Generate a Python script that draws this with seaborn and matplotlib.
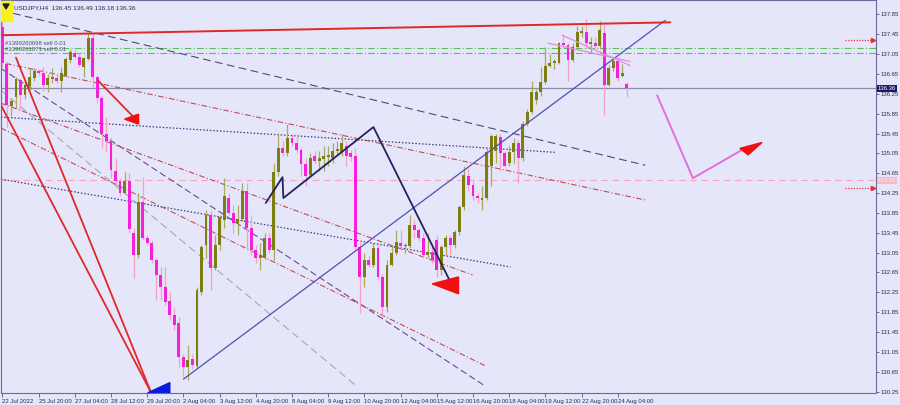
import numpy as np
import pandas as pd
import seaborn as sns
import matplotlib
matplotlib.use("Agg")
import matplotlib.pyplot as plt
from matplotlib.patches import Polygon, Rectangle
import matplotlib.transforms as mtransforms

# USDJPY H4 bars, 22 Jul 2022 12:00 .. 24 Aug 2022 12:00
opens = [137.60, 136.86, 136.00, 136.18, 136.52, 136.22, 136.40, 136.56, 136.71, 136.66,
         136.42, 136.55, 136.57, 136.50, 136.60, 136.93, 137.08, 137.00, 136.80, 136.95,
         137.37, 136.58, 136.16, 135.45, 135.30, 134.70, 134.50, 134.25, 134.50, 133.45,
         133.00, 134.07, 133.34, 133.24, 132.90, 132.60, 132.36, 132.07, 131.80, 131.63,
         130.95, 130.75, 130.90, 130.77, 132.26, 133.20, 133.80, 132.74, 133.20, 133.70,
         134.15, 133.85, 133.65, 133.72, 134.30, 133.55, 133.10, 132.95, 132.95, 133.35,
         133.10, 134.67, 135.15, 135.05, 135.35, 135.25, 135.12, 134.83, 134.62, 135.00,
         134.90, 134.93, 134.98, 134.95, 135.10, 135.07, 135.20, 135.05, 135.00, 133.16,
         132.55, 132.90, 132.80, 133.15, 132.55, 131.95, 132.80, 133.05, 133.25, 133.18,
         133.19, 133.60, 133.50, 133.35, 133.00, 133.07, 133.30, 132.70, 133.16, 133.34,
         133.20, 133.46, 133.96, 134.60, 134.42, 134.20, 134.12, 134.15, 134.80, 135.10,
         135.37, 135.05, 134.85, 135.07, 135.25, 134.95, 135.65, 135.88, 136.12, 136.28,
         136.48, 136.82, 136.87, 136.87, 137.27, 137.23, 136.93, 137.20, 137.48, 137.50,
         137.26, 137.28, 137.22, 137.48, 136.42, 136.77, 136.92, 136.60, 136.45]
highs = [137.72, 136.92, 136.15, 136.58, 136.56, 136.52, 136.77, 136.77, 136.74, 136.78,
         136.64, 136.77, 136.64, 136.80, 137.00, 137.15, 137.15, 137.05, 137.00, 137.48,
         137.45, 136.62, 136.20, 135.78, 135.37, 134.95, 134.55, 134.67, 134.65, 133.55,
         134.25, 134.57, 133.40, 133.30, 132.95, 132.75, 132.75, 132.25, 131.95, 131.75,
         131.00, 131.19, 131.00, 132.35, 133.20, 133.90, 133.90, 133.40, 133.80, 134.55,
         134.25, 134.00, 134.00, 134.45, 134.45, 133.80, 133.20, 133.25, 133.45, 133.45,
         134.85, 135.47, 135.30, 135.65, 135.45, 135.42, 135.18, 134.95, 135.05, 135.10,
         135.10, 135.20, 135.20, 135.25, 135.30, 135.45, 135.30, 135.12, 135.15, 133.30,
         133.05, 133.00, 133.25, 133.20, 132.62, 132.90, 133.20, 133.50, 133.50, 133.25,
         133.80, 133.70, 133.55, 133.45, 133.45, 133.20, 133.40, 133.20, 133.40, 133.40,
         133.50, 134.00, 134.80, 134.75, 134.50, 134.25, 134.40, 135.15, 135.45, 135.45,
         135.45, 135.10, 135.20, 135.35, 135.32, 135.70, 135.95, 136.50, 136.35, 136.80,
         137.20, 137.05, 136.95, 137.30, 137.45, 137.27, 137.27, 137.62, 137.62, 137.75,
         137.40, 137.40, 137.72, 137.63, 136.83, 137.00, 137.00, 136.86, 136.49]
lows = [136.80, 135.58, 135.80, 135.96, 135.92, 136.15, 136.32, 136.50, 136.62, 136.30,
        136.28, 136.47, 136.47, 136.28, 136.58, 136.88, 136.95, 136.80, 136.58, 136.93,
        136.36, 136.06, 135.15, 135.10, 134.56, 134.40, 134.20, 134.23, 133.45, 132.53,
        132.95, 133.30, 133.20, 132.85, 132.10, 132.10, 132.00, 131.70, 131.50, 130.75,
        130.55, 130.48, 130.70, 130.72, 132.20, 132.95, 132.30, 132.70, 133.10, 133.55,
        133.80, 133.45, 133.40, 133.68, 133.15, 133.00, 132.85, 132.70, 132.93, 133.05,
        132.90, 134.60, 135.00, 135.00, 135.20, 135.05, 134.60, 134.40, 134.58, 134.85,
        134.70, 134.70, 134.80, 134.85, 135.00, 135.00, 134.80, 134.90, 133.10, 131.83,
        132.35, 132.75, 132.75, 132.50, 131.75, 131.85, 132.78, 133.00, 133.12, 133.05,
        133.15, 133.35, 133.28, 132.95, 132.95, 132.85, 132.55, 132.60, 133.00, 133.00,
        133.15, 133.40, 133.90, 134.30, 134.10, 134.05, 133.90, 134.12, 134.40, 134.85,
        134.70, 134.80, 134.80, 134.85, 134.45, 134.90, 135.60, 135.85, 136.05, 136.20,
        136.45, 136.80, 136.75, 136.85, 137.20, 136.50, 136.90, 137.15, 137.40, 137.15,
        137.10, 137.18, 137.15, 135.82, 136.40, 136.70, 136.50, 136.58, 136.18]
closes = [136.87, 136.02, 136.10, 136.54, 136.22, 136.42, 136.58, 136.71, 136.66, 136.42,
          136.56, 136.57, 136.50, 136.66, 136.95, 137.09, 137.00, 136.83, 136.97, 137.37,
          136.58, 136.16, 135.45, 135.30, 134.71, 134.50, 134.25, 134.50, 133.52, 133.00,
          134.07, 133.34, 133.24, 132.90, 132.60, 132.36, 132.06, 131.80, 131.60, 130.95,
          130.75, 130.88, 130.78, 132.30, 133.17, 133.80, 132.74, 133.20, 133.76, 134.20,
          133.85, 133.65, 133.73, 134.30, 133.55, 133.10, 132.95, 133.00, 133.35, 133.10,
          134.67, 135.15, 135.05, 135.35, 135.25, 135.12, 134.83, 134.60, 134.95, 134.90,
          134.95, 135.00, 135.02, 135.10, 135.14, 135.25, 135.00, 134.98, 133.16, 132.55,
          132.90, 132.80, 133.15, 132.55, 131.95, 132.80, 133.05, 133.27, 133.18, 133.19,
          133.60, 133.50, 133.35, 133.00, 133.07, 132.90, 132.70, 133.16, 133.34, 133.20,
          133.46, 133.96, 134.61, 134.42, 134.20, 134.15, 134.16, 135.07, 135.40, 135.40,
          135.05, 134.80, 135.07, 135.25, 134.95, 135.65, 135.88, 136.28, 136.28, 136.48,
          136.82, 136.88, 136.92, 137.27, 137.23, 136.93, 137.20, 137.50, 137.50, 137.27,
          137.28, 137.22, 137.53, 136.42, 136.77, 136.92, 136.56, 136.66, 136.36]

time_labels = ["22 Jul 2022", "25 Jul 20:00", "27 Jul 04:00", "28 Jul 12:00", "29 Jul 20:00",
               "2 Aug 04:00", "3 Aug 12:00", "4 Aug 20:00", "8 Aug 04:00", "9 Aug 12:00",
               "10 Aug 20:00", "12 Aug 04:00", "15 Aug 12:00", "16 Aug 20:00", "18 Aug 04:00",
               "19 Aug 12:00", "22 Aug 20:00", "24 Aug 04:00"]
time_label_bars = [0, 8, 16, 24, 32, 40, 48, 56, 64, 72, 80, 88, 96, 104, 112, 120, 128, 136]
price_ticks = [130.25, 130.65, 131.05, 131.45, 131.85, 132.25, 132.65, 133.05, 133.45,
               133.85, 134.25, 134.65, 135.05, 135.45, 135.85, 136.25, 136.65, 137.05,
               137.45, 137.85]

# chart objects: (bar0, price0, bar1, price1)
red_top = (-0.3, 137.43, 147.6, 137.69)
red_fan = [(-0.3, 136.02, 32.8, 130.24), (3.0, 136.98, 32.8, 130.24)]
red_arrow = (21.1, 136.52, 29.0, 135.78)
slate_dash = (-0.3, 137.93, 142.1, 134.81)
navy_dot = [(-0.3, 135.78, 122.2, 135.07), (-0.3, 134.53, 112.3, 132.76)]
purple_dash = (-0.3, 136.76, 106.7, 130.36)
gray_dash = (-0.3, 136.32, 78.0, 130.38)
red_dashdot = [(0.8, 136.86, 142.1, 134.11), (-0.3, 136.06, 103.9, 132.60),
               (-0.3, 135.56, 106.7, 130.77)]
blue_trend = (40.0, 130.50, 146.5, 137.73)
orchid_channel = [(123.7, 137.43, 138.7, 136.82), (120.6, 137.27, 138.7, 136.90)]
zigzag_bars = [58.2, 61.9, 62.1, 82.0, 99.0]
zigzag_prices = [134.05, 134.57, 134.15, 135.58, 132.46]
forecast_bars = [144.7, 152.6, 164.8]
forecast_prices = [136.22, 134.55, 135.19]
sell_orders = [137.17, 137.08]
order_names = ["#1399260698 sell 0.01", "#1399261871 sell 0.01"]
alert_level = 134.51
stop_levels = [137.34, 134.36]
bid = 136.36
header = "USDJPY,H4  136.45 136.49 136.18 136.36"

df = pd.DataFrame({"open": opens, "high": highs, "low": lows, "close": closes})
df["bar"] = np.arange(len(df))
df["up"] = df["close"] >= df["open"]

bg = "#E6E6FA"
sns.set_style("white", rc={"axes.facecolor": bg, "figure.facecolor": bg,
                           "axes.edgecolor": "#6A6A9A"})
plt.rcParams["font.family"] = ["Liberation Sans Narrow", "Liberation Sans", "DejaVu Sans"]
fs = 4.3

fig = plt.figure(figsize=(9, 4.05), dpi=100)
ax = fig.add_axes([0.001, 0.03, 0.972, 0.969])
ax.set_xlim(-0.33, 193.0)
ax.set_ylim(130.224, 138.132)

# guide lines
ax.axhline(bid, color="#8C8CA8", lw=0.9, zorder=1)
ax.axhline(alert_level, color="#F4A8B8", lw=0.8, ls=(0, (6, 4)), zorder=1)
for p in sell_orders:
    ax.axhline(p, color="#58C058", lw=0.8, ls=(0, (6, 2, 1, 2)), zorder=1)

def seg(t, **kw):
    ax.plot([t[0], t[2]], [t[1], t[3]], **kw)

seg(slate_dash, color="#4A4A7A", lw=0.8, ls=(0, (7, 4)), zorder=2)
for t in navy_dot:
    seg(t, color="#3C3C80", lw=0.9, ls=(0, (1.2, 1.5)), zorder=2)
seg(purple_dash, color="#6A4A90", lw=0.8, ls=(0, (6, 3)), zorder=2)
seg(gray_dash, color="#A6A6BC", lw=0.8, ls=(0, (7, 4)), zorder=2)
for t in red_dashdot:
    seg(t, color="#C24A5A", lw=0.8, ls=(0, (5, 2, 1, 2)), zorder=2)

# candles
wick_col = np.where(df["up"], "#A8A860", "#F2A2C4")
body_col = np.where(df["up"], "#7E7E10", "#F520D8")
ax.vlines(df["bar"], df["low"], df["high"], colors=wick_col, lw=0.9, zorder=3)
body_lo = df[["open", "close"]].min(axis=1)
body_h = (df["close"] - df["open"]).abs().clip(lower=0.03)
ax.bar(df["bar"], body_h, bottom=body_lo, width=0.64, color=body_col, lw=0, zorder=4)

# drawn objects on top
seg(blue_trend, color="#5050B4", lw=0.9, zorder=5)
for t in orchid_channel:
    seg(t, color="#E08CDC", lw=0.9, zorder=5)
seg(red_top, color="#E02828", lw=1.4, zorder=5)
for t in red_fan:
    seg(t, color="#E02828", lw=1.3, zorder=5)
seg(red_arrow, color="#E02828", lw=1.3, zorder=5)
ax.plot(zigzag_bars, zigzag_prices, color="#23235E", lw=1.3, zorder=6)
ax.plot(forecast_bars, forecast_prices, color="#E070D8", lw=1.4, zorder=6)

ax.add_patch(Polygon([(27.0, 135.74), (30.1, 135.84), (30.1, 135.64)], closed=True,
                     color="#F01010", zorder=6))
ax.add_patch(Polygon([(95.0, 132.42), (100.8, 132.56), (100.8, 132.22)], closed=True,
                     color="#F01010", zorder=6))
ax.add_patch(Polygon([(163.0, 135.15), (167.9, 135.27), (164.8, 135.02)], closed=True,
                     color="#F01010", zorder=6))
ax.add_patch(Polygon([(32.1, 130.224), (37.0, 130.43), (37.0, 130.224)], closed=True,
                     color="#0A1ADC", zorder=6))

for p in stop_levels:
    ax.plot([186.2, 192.4], [p, p], color="#E83030", lw=0.9, ls=(0, (1, 1.2)), zorder=6)
    ax.plot([192.4], [p], marker=">", color="#E83030", ms=3, zorder=6)

# order labels and header
for k, name in enumerate(order_names):
    ax.text(0.6, sell_orders[k] + 0.09 - 0.02 * k, name, fontsize=fs, color="#505070",
            va="center", zorder=7)
fig.text(14 / 900, 1 - 8 / 405, header, fontsize=fs + 0.3, color="#2A2A50", va="center")
fig.patches.append(Rectangle((1 / 900, 1 - 21 / 405), 11 / 900, 20 / 405,
                             transform=fig.transFigure, color="#F8F020", zorder=8))
fig.patches.append(Polygon([(3 / 900, 1 - 4 / 405), (9 / 900, 1 - 4 / 405), (6 / 900, 1 - 9 / 405)],
                           closed=True, transform=fig.transFigure, color="#202020", zorder=9))

# axes styling
ax.yaxis.tick_right()
ax.set_yticks(price_ticks)
ax.set_yticklabels([f"{p:.2f}" for p in price_ticks])
ax.tick_params(axis="y", length=2, width=0.7, pad=1.5, labelsize=fs, colors="#2A2A50",
               color="#6A6A9A", right=True)
ax.set_xticks(time_label_bars)
ax.set_xticklabels(time_labels)
ax.tick_params(axis="x", length=3, width=0.7, pad=1.2, labelsize=fs, colors="#2A2A50",
               color="#6A6A9A", bottom=True)
for lab in ax.get_xticklabels():
    lab.set_horizontalalignment("left")
for s in ax.spines.values():
    s.set_linewidth(0.8)

trans = mtransforms.blended_transform_factory(ax.transAxes, ax.transData)
ax.text(1.002, bid, f"{bid:.2f}", transform=trans, fontsize=fs, color="white", va="center",
        ha="left", clip_on=False, zorder=9,
        bbox=dict(boxstyle="square,pad=0.15", fc="#1A1A6A", ec="none"))
ax.text(1.002, alert_level, f"{alert_level:.2f}", transform=trans, fontsize=fs, color="#FCE8EE",
        va="center", ha="left", clip_on=False, zorder=9,
        bbox=dict(boxstyle="square,pad=0.15", fc="#F8B8C8", ec="none"))

fig.savefig("out.png", dpi=100, facecolor=bg)
